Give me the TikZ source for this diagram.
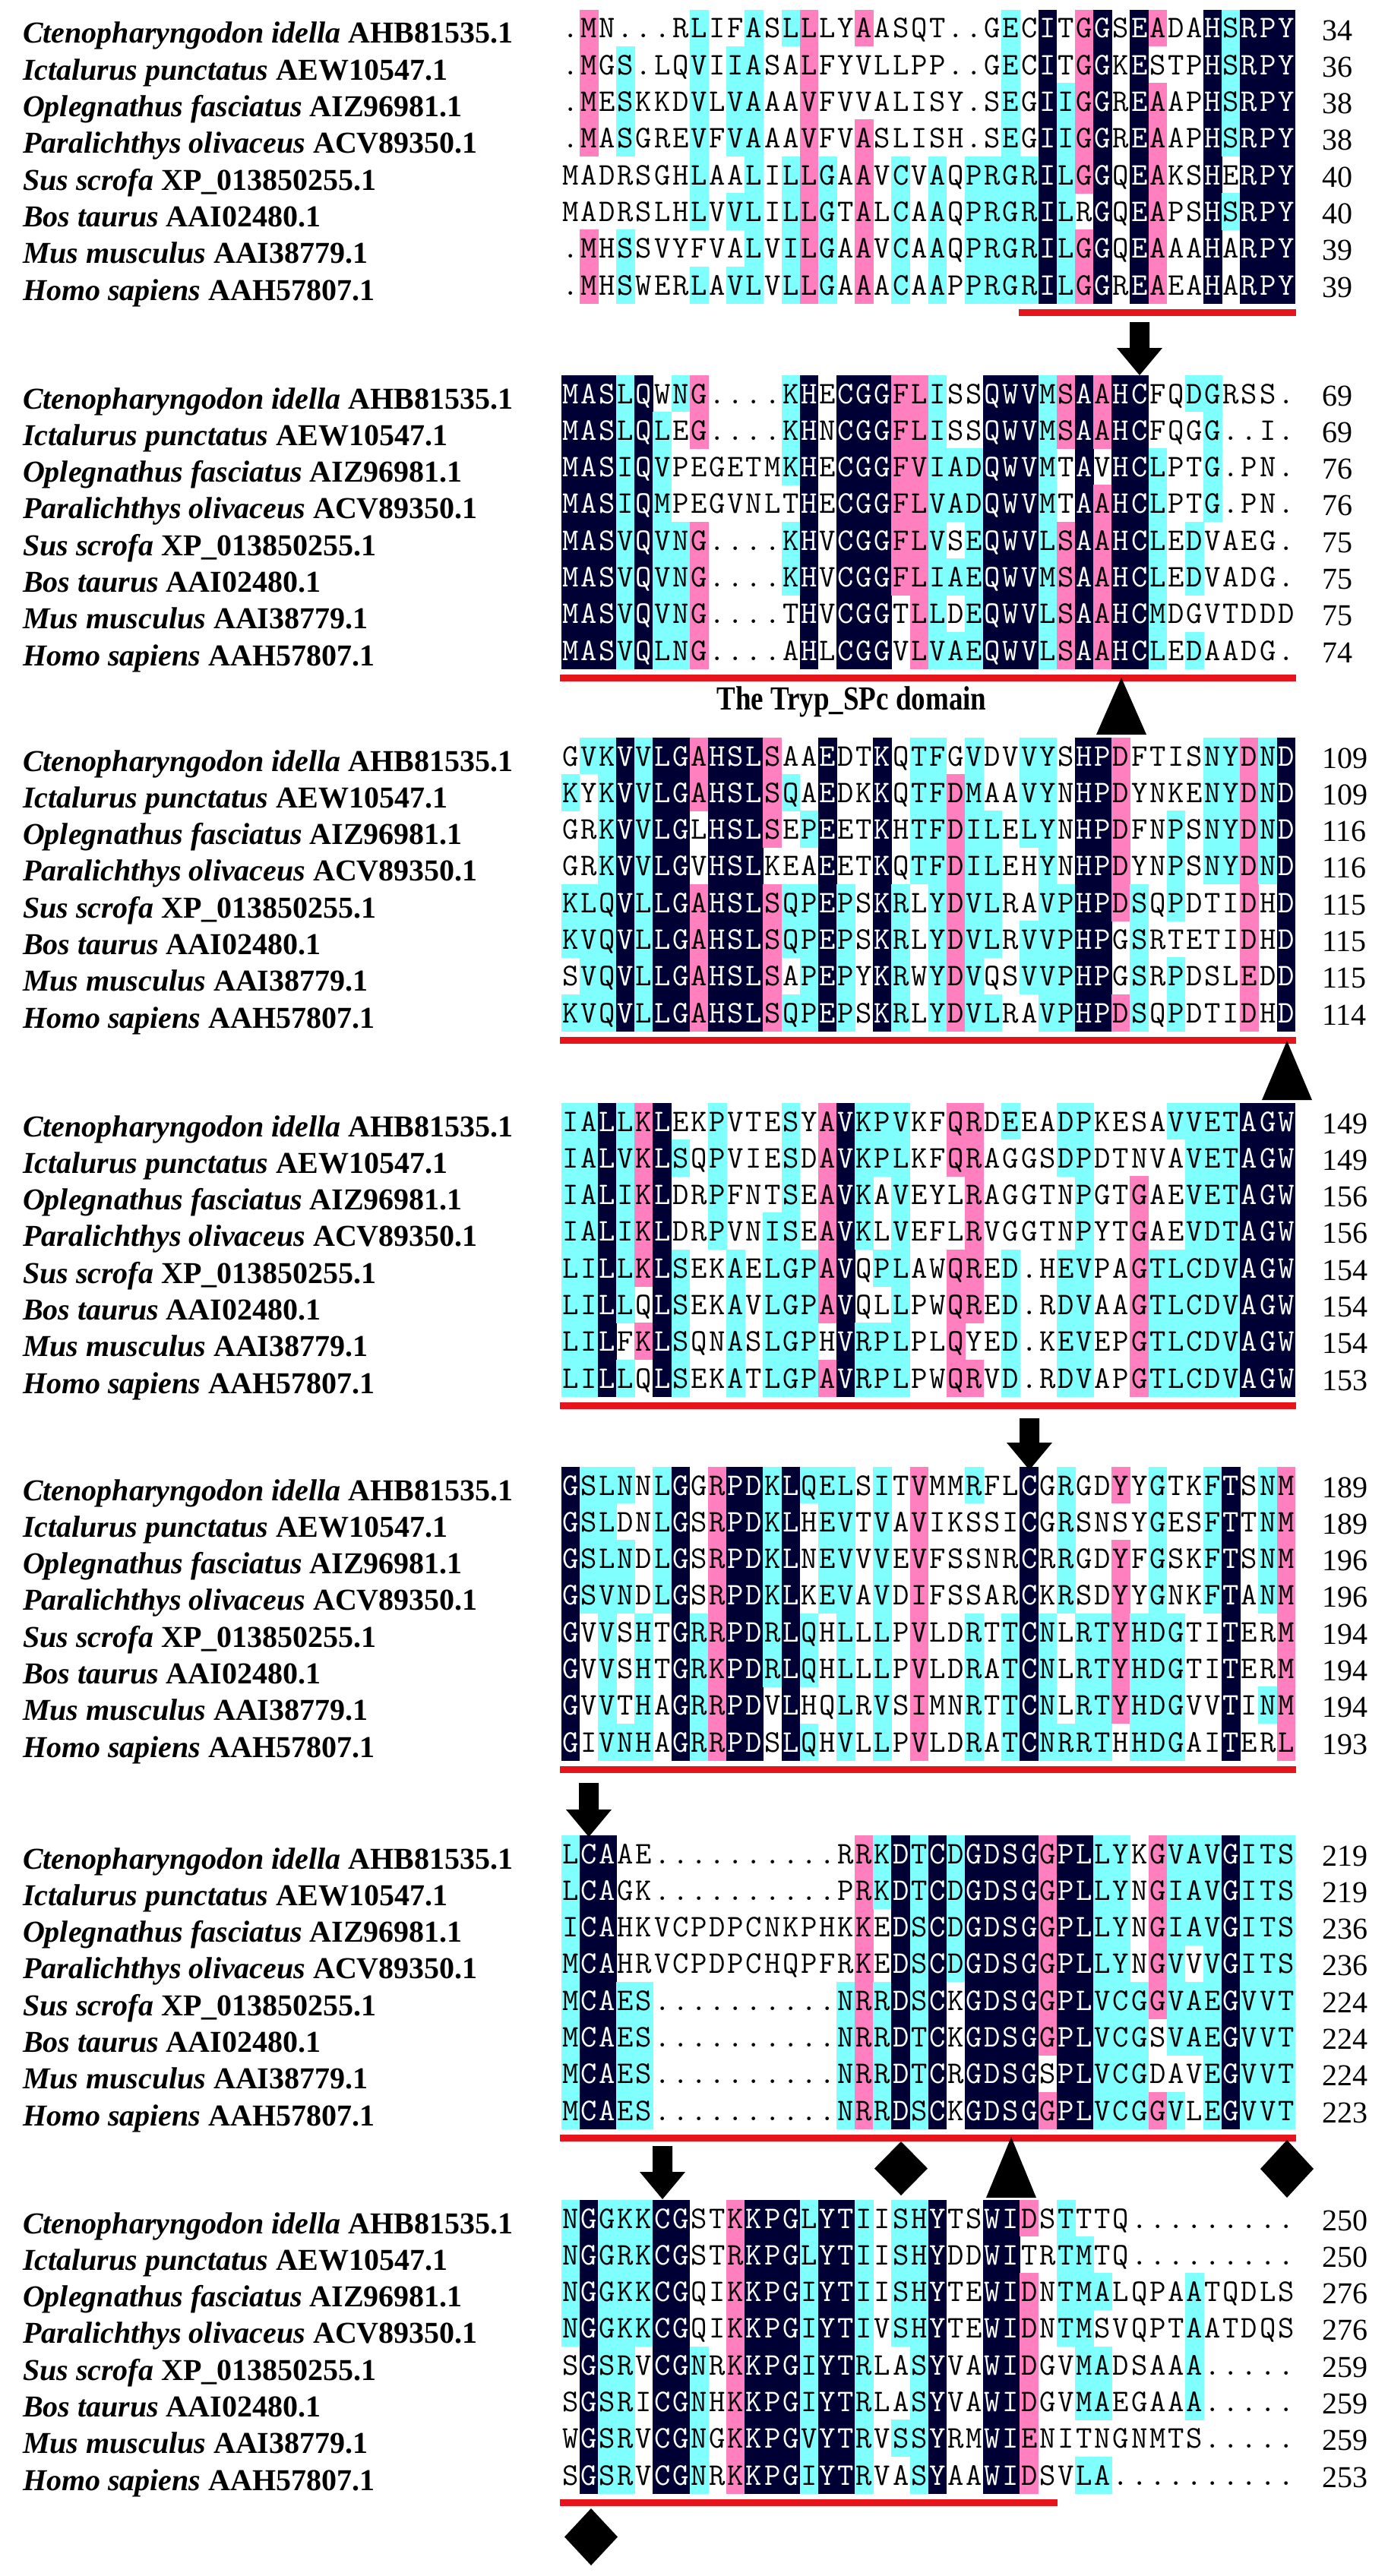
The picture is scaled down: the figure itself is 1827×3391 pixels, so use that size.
\documentclass[tikz,border=0pt]{standalone}
\usepackage{fontspec}
\usepackage{graphicx}
\setmainfont{Liberation Serif}
\definecolor{alnnavy}{HTML}{000035}
\definecolor{alnpink}{HTML}{FF7FBF}
\definecolor{alncyan}{HTML}{80FFFF}
\definecolor{alnred}{HTML}{E8141C}
\def\alnxo{739}
\def\alncw{24.15}
\def\alnph{48.3}
\def\alnyb{0}
\def\alnbk{1}
\tikzset{
  lab/.style={anchor=base west,inner sep=0pt,outer sep=0pt,font=\fontsize{40}{48}\selectfont\bfseries},
  num/.style={anchor=base west,inner sep=0pt,outer sep=0pt,font=\fontsize{40}{48}\selectfont},
  seqrow/.style={anchor=base west,inner sep=0pt,outer sep=0pt,font=\fontsize{41.5}{48}\selectfont\ttfamily\addfontfeatures{FakeBold=2.6}},
  symb/.style={fill=black,line join=round}
}
\newcommand\alnB[1]{\makebox[\alncw pt][c]{#1}}
\newcommand\alnW[1]{\makebox[\alncw pt][c]{\color{white}#1}}
\newcommand\alnlab[1]{\ifcase#1\or{\itshape Ctenopharyngodon idella} AHB81535.1\or{\itshape Ictalurus punctatus} AEW10547.1\or{\itshape Oplegnathus fasciatus} AIZ96981.1\or{\itshape Paralichthys olivaceus} ACV89350.1\or{\itshape Sus scrofa} XP\_013850255.1\or{\itshape Bos taurus} AAI02480.1\or{\itshape Mus musculus} AAI38779.1\or{\itshape Homo sapiens} AAH57807.1\fi}
\newcommand\alncell[3]{%
  \pgfmathsetmacro\alnxa{\alnxo+(#1-1)*\alncw-0.3}%
  \pgfmathsetmacro\alnya{-(\alnyb+(#2-1)*\alnph-\alnph/2)+0.3}%
  \fill[#3] (\alnxa pt,\alnya pt) rectangle ++(\alncw pt+0.6pt,-\alnph pt-0.6pt);}
\newcommand\alnrow[3]{%
  \pgfmathsetmacro\alnyc{\alnyb+(#1-1)*\alnph}%
  \pgfmathsetmacro\alnyl{-(\alnyc+20)}%
  \pgfmathsetmacro\alnyn{-(\alnyc+16)}%
  \pgfmathsetmacro\alnys{-(\alnyc+13)}%
  \node[lab] (lab\alnbk-#1) at (30pt,\alnyl pt) {\alnlab{#1}};
  \node[seqrow] (seq\alnbk-#1) at (\alnxo pt,\alnys pt) {#2};
  \node[num] (num\alnbk-#1) at (1740pt,\alnyn pt) {#3};}
\newcommand\alnredline[2]{%
  \pgfmathsetmacro\alnrx{\alnxo+(#1-1)*\alncw-2}%
  \pgfmathsetmacro\alnre{\alnxo+#2*\alncw+1}%
  \pgfmathsetmacro\alnry{-(\alnyb+7*\alnph+36)}%
  \fill[alnred] (\alnrx pt,\alnry pt+4.5pt) rectangle (\alnre pt,\alnry pt-4.5pt);}
\newcommand\alndown[3]{%
  \fill[symb] (#1pt-13pt,-#2pt) -- (#1pt+13pt,-#2pt) -- (#1pt+13pt,-#3pt+36pt) -- (#1pt+30pt,-#3pt+36pt) -- (#1pt,-#3pt) -- (#1pt-30pt,-#3pt+36pt) -- (#1pt-13pt,-#3pt+36pt) -- cycle;}
\newcommand\alntri[3]{%
  \fill[symb] (#1pt,-#2pt) -- (#1pt+33pt,-#3pt) -- (#1pt-33pt,-#3pt) -- cycle;}
\newcommand\alndiam[3]{%
  \pgfmathsetmacro\alnm{-(#2+#3)/2}%
  \fill[symb] (#1pt,-#2pt) -- (#1pt+35pt,\alnm pt) -- (#1pt,-#3pt) -- (#1pt-35pt,\alnm pt) -- cycle;}

\ExplSyntaxOn
\cs_generate_variant:Nn \str_item:Nn { c }
\int_new:N \l__aln_cnt_int
\int_new:N \l__aln_best_int
\int_new:N \l__aln_lev_int
\tl_new:N \l__aln_cons_tl
\tl_new:N \l__aln_ci_tl
\tl_new:N \l__aln_i_tl
\tl_new:N \l__aln_j_tl
\bool_new:N \l__aln_col_bool
\seq_new:N \l__aln_tmp_seq
\int_step_inline:nn {8}
 { \tl_new:c { l__aln_row_#1_tl } \tl_new:c { l__aln_txt_#1_tl } }
\cs_new:Npn \__aln_group:n #1
 { \str_case:nnF {#1} { {L}{1} {I}{1} {V}{1} {M}{1} {K}{2} {R}{2} {D}{3} {E}{3} } {0} }
\cs_generate_variant:Nn \__aln_group:n { V }
\cs_new:Npn \__aln_char:nn #1#2 { \str_item:cn { l__aln_row_#1_tl } {#2} }
\cs_new_protected:Npn \__aln_count:n #1
 {
  \int_zero:N \l__aln_cnt_int
  \int_step_variable:nNn {8} \l__aln_j_tl
   {
    \str_if_eq:eeT { \__aln_char:nn { \l__aln_j_tl } {#1} } { \l__aln_ci_tl }
     { \int_incr:N \l__aln_cnt_int }
   }
 }
\cs_new_protected:Npn \__aln_column:n #1
 {
  \int_zero:N \l__aln_best_int
  \tl_clear:N \l__aln_cons_tl
  \int_step_variable:nNn {8} \l__aln_i_tl
   {
    \tl_set:Nx \l__aln_ci_tl { \__aln_char:nn { \l__aln_i_tl } {#1} }
    \str_if_eq:VnF \l__aln_ci_tl { . }
     {
      \__aln_count:n {#1}
      \int_compare:nNnT { \l__aln_cnt_int } > { \l__aln_best_int }
       {
        \int_set_eq:NN \l__aln_best_int \l__aln_cnt_int
        \tl_set_eq:NN \l__aln_cons_tl \l__aln_ci_tl
       }
     }
   }
  \int_set:Nn \l__aln_lev_int
   {
    \int_compare:nNnTF { \l__aln_best_int } = { 8 } { 3 }
     {
      \int_compare:nNnTF { \l__aln_best_int } > { 5 } { 2 }
       { \int_compare:nNnTF { \l__aln_best_int } > { 3 } { 1 } { 0 } }
     }
   }
  \int_step_variable:nNn {8} \l__aln_i_tl
   {
    \tl_set:Nx \l__aln_ci_tl { \__aln_char:nn { \l__aln_i_tl } {#1} }
    \bool_set_false:N \l__aln_col_bool
    \int_compare:nNnT { \l__aln_lev_int } > { 0 }
     {
      \str_if_eq:VnF \l__aln_ci_tl { . }
       {
        \__aln_count:n {#1}
        \int_compare:nNnTF { \l__aln_cnt_int } = { \l__aln_best_int }
         { \bool_set_true:N \l__aln_col_bool }
         {
          \int_compare:nNnT { \__aln_group:V \l__aln_ci_tl } > { 0 }
           {
            \int_compare:nNnT { \__aln_group:V \l__aln_ci_tl } = { \__aln_group:V \l__aln_cons_tl }
             { \bool_set_true:N \l__aln_col_bool }
           }
         }
       }
     }
    \bool_if:NTF \l__aln_col_bool
     {
      \use:x { \exp_not:N \alncell {#1} { \l__aln_i_tl }
        { \int_case:nn { \l__aln_lev_int } { {1}{alncyan} {2}{alnpink} {3}{alnnavy} } } }
      \int_compare:nNnTF { \l__aln_lev_int } = { 3 }
       { \tl_put_right:cx { l__aln_txt_ \l__aln_i_tl _tl } { \exp_not:N \alnW { \l__aln_ci_tl } } }
       { \tl_put_right:cx { l__aln_txt_ \l__aln_i_tl _tl } { \exp_not:N \alnB { \l__aln_ci_tl } } }
     }
     { \tl_put_right:cx { l__aln_txt_ \l__aln_i_tl _tl } { \exp_not:N \alnB { \l__aln_ci_tl } } }
   }
 }
\NewDocumentCommand \alnblock { m m m m m m }
 {
  \def\alnbk{#1}
  \def\alnyb{#2}
  \seq_set_from_clist:Nn \l__aln_tmp_seq {#3}
  \int_step_inline:nn {8}
   {
    \tl_set:cx { l__aln_row_##1_tl } { \seq_item:Nn \l__aln_tmp_seq {##1} }
    \tl_clear:c { l__aln_txt_##1_tl }
   }
  \int_step_inline:nn {40} { \__aln_column:n {##1} }
  \int_step_inline:nn {8}
   {
    \use:x { \exp_not:N \alnrow {##1} { \exp_not:v { l__aln_txt_##1_tl } } { \clist_item:nn {#4} {##1} } }
   }
  \alnredline {#5} {#6}
 }
\ExplSyntaxOff

\begin{document}
\begin{tikzpicture}
\fill[white] (0pt,0pt) rectangle (1827pt,-3391pt);
\useasboundingbox (0pt,0pt) rectangle (1827pt,-3391pt);

\alnblock{1}{37}{.MN...RLIFASLLLYAASQT..GECITGGSEADAHSRPY,
.MGS.LQVIIASALFYVLLPP..GECITGGKESTPHSRPY,
.MESKKDVLVAAAVFVVALISY.SEGIIGGREAAPHSRPY,
.MASGREVFVAAAVFVASLISH.SEGIIGGREAAPHSRPY,
MADRSGHLAALILLGAAVCVAQPRGRILGGQEAKSHERPY,
MADRSLHLVVLILLGTALCAAQPRGRILRGQEAPSHSRPY,
.MHSSVYFVALVILGAAVCAAQPRGRILGGQEAAAHARPY,
.MHSWERLAVLVLLGAAACAAPPRGRILGGREAEAHARPY}{34,36,38,38,40,40,39,39}{26}{40}

\alnblock{2}{518}{MASLQWNG....KHECGGFLISSQWVMSAAHCFQDGRSS.,
MASLQLEG....KHNCGGFLISSQWVMSAAHCFQGG..I.,
MASIQVPEGETMKHECGGFVIADQWVMTAVHCLPTG.PN.,
MASIQMPEGVNLTHECGGFLVADQWVMTAAHCLPTG.PN.,
MASVQVNG....KHVCGGFLVSEQWVLSAAHCLEDVAEG.,
MASVQVNG....KHVCGGFLIAEQWVMSAAHCLEDVADG.,
MASVQVNG....THVCGGTLLDEQWVLSAAHCMDGVTDDD,
MASVQLNG....AHLCGGVLVAEQWVLSAAHCLEDAADG.}{69,69,76,76,75,75,75,74}{1}{40}

\alnblock{3}{995}{GVKVVLGAHSLSAAEDTKQTFGVDVVYSHPDFTISNYDND,
KYKVVLGAHSLSQAEDKKQTFDMAAVYNHPDYNKENYDND,
GRKVVLGLHSLSEPEETKHTFDILELYNHPDFNPSNYDND,
GRKVVLGVHSLKEAEETKQTFDILEHYNHPDYNPSNYDND,
KLQVLLGAHSLSQPEPSKRLYDVLRAVPHPDSQPDTIDHD,
KVQVLLGAHSLSQPEPSKRLYDVLRVVPHPGSRTETIDHD,
SVQVLLGAHSLSAPEPYKRWYDVQSVVPHPGSRPDSLEDD,
KVQVLLGAHSLSQPEPSKRLYDVLRAVPHPDSQPDTIDHD}{109,109,116,116,115,115,115,114}{1}{40}

\alnblock{4}{1476}{IALLKLEKPVTESYAVKPVKFQRDEEADPKESAVVETAGW,
IALVKLSQPVIESDAVKPLKFQRAGGSDPDTNVAVETAGW,
IALIKLDRPFNTSEAVKAVEYLRAGGTNPGTGAEVETAGW,
IALIKLDRPVNISEAVKLVEFLRVGGTNPYTGAEVDTAGW,
LILLKLSEKAELGPAVQPLAWQRED.HEVPAGTLCDVAGW,
LILLQLSEKAVLGPAVQLLPWQRED.RDVAAGTLCDVAGW,
LILFKLSQNASLGPHVRPLPLQYED.KEVEPGTLCDVAGW,
LILLQLSEKATLGPAVRPLPWQRVD.RDVAPGTLCDVAGW}{149,149,156,156,154,154,154,153}{1}{40}

\alnblock{5}{1955}{GSLNNLGGRPDKLQELSITVMMRFLCGRGDYYGTKFTSNM,
GSLDNLGSRPDKLHEVTVAVIKSSICGRSNSYGESFTTNM,
GSLNDLGSRPDKLNEVVVEVFSSNRCRRGDYFGSKFTSNM,
GSVNDLGSRPDKLKEVAVDIFSSARCKRSDYYGNKFTANM,
GVVSHTGRRPDRLQHLLLPVLDRTTCNLRTYHDGTITERM,
GVVSHTGRKPDRLQHLLLPVLDRATCNLRTYHDGTITERM,
GVVTHAGRRPDVLHQLRVSIMNRTTCNLRTYHDGVVTINM,
GIVNHAGRRPDSLQHVLLPVLDRATCNRRTHHDGAITERL}{189,189,196,196,194,194,194,193}{1}{40}

\alnblock{6}{2440}{LCAAE..........RRKDTCDGDSGGPLLYKGVAVGITS,
LCAGK..........PRKDTCDGDSGGPLLYNGIAVGITS,
ICAHKVCPDPCNKPHKKEDSCDGDSGGPLLYNGIAVGITS,
MCAHRVCPDPCHQPFRKEDSCDGDSGGPLLYNGVVVGITS,
MCAES..........NRRDSCKGDSGGPLVCGGVAEGVVT,
MCAES..........NRRDTCKGDSGGPLVCGSVAEGVVT,
MCAES..........NRRDTCRGDSGSPLVCGDAVEGVVT,
MCAES..........NRRDSCKGDSGGPLVCGGVLEGVVT}{219,219,236,236,224,224,224,223}{1}{40}

\alnblock{7}{2920}{NGGKKCGSTKKPGLYTIISHYTSWIDSTTTQ.........,
NGGRKCGSTRKPGLYTIISHYDDWITRTMTQ.........,
NGGKKCGQIKKPGIYTIISHYTEWIDNTMALQPAATQDLS,
NGGKKCGQIKKPGIYTIVSHYTEWIDNTMSVQPTAATDQS,
SGSRVCGNRKKPGIYTRLASYVAWIDGVMADSAAA.....,
SGSRICGNHKKPGIYTRLASYVAWIDGVMAEGAAA.....,
WGSRVCGNGKKPGVYTRVSSYRMWIENITNGNMTS.....,
SGSRVCGNRKKPGIYTRVASYAAWIDSVLA..........}{250,250,276,276,259,259,259,253}{1}{27}

\alndown{1500}{424}{494}
\alntri{1476}{892}{967}
\node[font=\fontsize{37}{44}\selectfont\bfseries,inner sep=0pt] (dom) at (1121pt,-924pt) {\scalebox{1}[1.2]{The Tryp\_SPc domain}};
\alntri{1694}{1370}{1448}
\alndown{1355}{1867}{1935}
\alndown{775}{2347}{2418}
\alndown{872}{2825}{2895}
\alndiam{1186}{2819}{2890}
\alntri{1331}{2813}{2893}
\alndiam{1694}{2817}{2893}
\alndiam{778}{3302}{3377}
\end{tikzpicture}
\end{document}
